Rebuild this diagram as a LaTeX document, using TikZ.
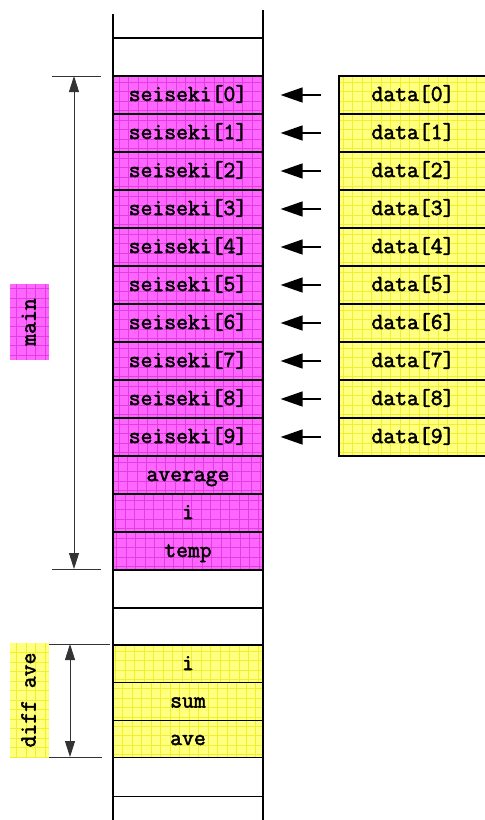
\documentclass[tikz,border=0pt]{standalone}
\usepackage{fontspec}
\newfontfamily\codefont{Latin Modern Mono}[FakeBold=2.2]
\usetikzlibrary{arrows.meta}
\definecolor{mag}{HTML}{FF66FF}
\definecolor{magline}{HTML}{E23CE2}
\definecolor{yel}{HTML}{FFFF80}
\definecolor{yelline}{HTML}{F0F030}
\definecolor{dimgray}{HTML}{333333}
\tikzset{
  gridfill/.style 2 args={fill=#1,
    path picture={\draw[#2, line width=0.7pt]
      (path picture bounding box.south west) grid[step=9.5pt]
      (path picture bounding box.north east);}},
  magfill/.style={gridfill={mag}{magline}},
  yelfill/.style={gridfill={yel}{yelline}},
  txt/.style={font=\codefont\fontsize{23}{24}\selectfont,
    text height=16pt, text depth=4pt},
  cell/.style={draw, line width=1.2pt, minimum width=150pt, minimum height=38pt,
    inner sep=0pt, txt},
  dcell/.style={cell, minimum width=148pt},
  label/.style={inner sep=0pt, minimum height=39pt, rotate=90, txt},
  wall/.style={line width=1.2pt},
  tick/.style={line width=0.8pt, draw=dimgray},
  bigarr/.style={line width=1.4pt, -{Triangle[length=22pt,width=15pt]}},
  dimarr/.style={line width=0.9pt, draw=dimgray,
    {Triangle[length=16pt,width=10pt]}-{Triangle[length=16pt,width=10pt]}}
}
\begin{document}
\begin{tikzpicture}[x=1pt,y=-1pt]
\useasboundingbox (0,0) rectangle (485,820);

% empty frame above the main block
\node[cell] (top) at (188,57) {};

% main block: array cells and locals
\foreach \i in {0,...,9}{
  \node[cell, magfill] (s\i) at (188,95+38*\i) {seiseki[\i]};
}
\node[cell, magfill] (avg) at (188,475) {average};
\node[cell, magfill] (mi) at (188,513) {i};
\node[cell, magfill] (mtemp) at (188,551) {temp};

% gap frames
\node[cell] (g1) at (188,589) {};
\node[cell, minimum height=37pt] (g2) at (188,626.5) {};

% diff ave block
\node[cell, yelfill, minimum height=37.5pt] (di) at (188,664) {i};
\node[cell, yelfill, minimum height=37.5pt] (dsum) at (188,701.5) {sum};
\node[cell, yelfill, minimum height=37.5pt] (dave) at (188,739) {ave};

% frame below
\node[cell, minimum height=39pt] (bot) at (188,777) {};

% stack walls
\draw[wall] (113,14) -- (113,820);
\draw[wall] (263,10) -- (263,820);

% data array and copy arrows
\foreach \i in {0,...,9}{
  \node[dcell, yelfill] (d\i) at (413,95+38*\i) {data[\i]};
  \draw[bigarr] ([xshift=-17pt]d\i.west) -- ([xshift=17pt]s\i.east);
}

% frame labels
\node[label, magfill, minimum width=76pt] (mainlbl) at (29.5,322) {main};
\node[label, yelfill, minimum width=114pt] (difflbl) at (29.5,700) {diff ave};

% extent of main
\coordinate (mt) at (74,76);
\coordinate (mb) at (74,569);
\draw[tick] (52,76) -- (101,76);
\draw[tick] (52,569) -- (101,569);
\draw[dimarr] (mt) -- (mb);

% extent of diff ave
\coordinate (dt) at (70,644);
\coordinate (db) at (70,757);
\draw[tick] (49,644) -- (110,644);
\draw[tick] (49,757) -- (102,757);
\draw[dimarr] (dt) -- (db);
\end{tikzpicture}
\end{document}
